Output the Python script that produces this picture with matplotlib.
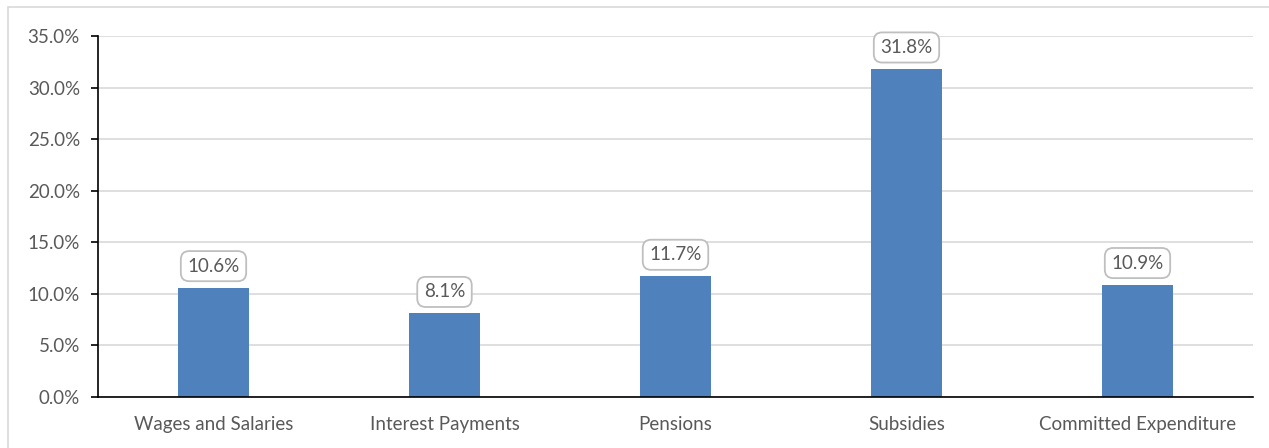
import matplotlib.pyplot as plt
from matplotlib.patches import Rectangle
from matplotlib.ticker import FuncFormatter

categories = ["Wages and Salaries", "Interest Payments", "Pensions",
              "Subsidies", "Committed Expenditure"]
shares = [10.6, 8.1, 11.7, 31.8, 10.9]
y_ticks = [0, 5, 10, 15, 20, 25, 30, 35]

plt.rcParams['font.family'] = ['Lato', 'DejaVu Sans']

fig = plt.figure(figsize=(12.69, 4.48), dpi=100)
ax = fig.add_axes([98 / 1269, 51 / 448, (1253 - 98) / 1269, (397 - 36) / 448])

# outer chart frame
fig.patches.append(Rectangle((8 / 1269, -0.1), 1.2, (441 / 448) + 0.1,
                             transform=fig.transFigure, fill=False,
                             edgecolor='#d9d9d9', linewidth=1.2))

x = range(len(categories))
ax.bar(x, shares, width=0.31, color='#4f81bd', zorder=2)

for xi, v in zip(x, shares):
    ax.annotate(f"{v:.1f}%", (xi, v), xytext=(0, 15.5), textcoords='offset points',
                ha='center', va='center', fontsize=13.5, color='#595959',
                bbox=dict(boxstyle='round,pad=0.35,rounding_size=0.45',
                          fc='white', ec='#bfbfbf', lw=1.3))

ax.set_ylim(0, 35)
ax.set_xlim(-0.5, len(categories) - 0.5)
ax.set_yticks(y_ticks)
ax.yaxis.set_major_formatter(FuncFormatter(lambda v, _: f"{v:.1f}%"))
ax.set_xticks(list(x))
ax.set_xticklabels(categories)
ax.grid(axis='y', color='#d9d9d9', linewidth=1.2, zorder=0)
for s in ['top', 'right']:
    ax.spines[s].set_visible(False)
ax.spines['left'].set_linewidth(1.2)
ax.spines['bottom'].set_linewidth(1.2)
ax.tick_params(axis='y', length=5, width=1.2, labelsize=13.5, labelcolor='#595959', pad=8)
ax.tick_params(axis='x', length=0, labelsize=13.5, labelcolor='#595959', pad=14)

fig.savefig('out.png', dpi=100)
